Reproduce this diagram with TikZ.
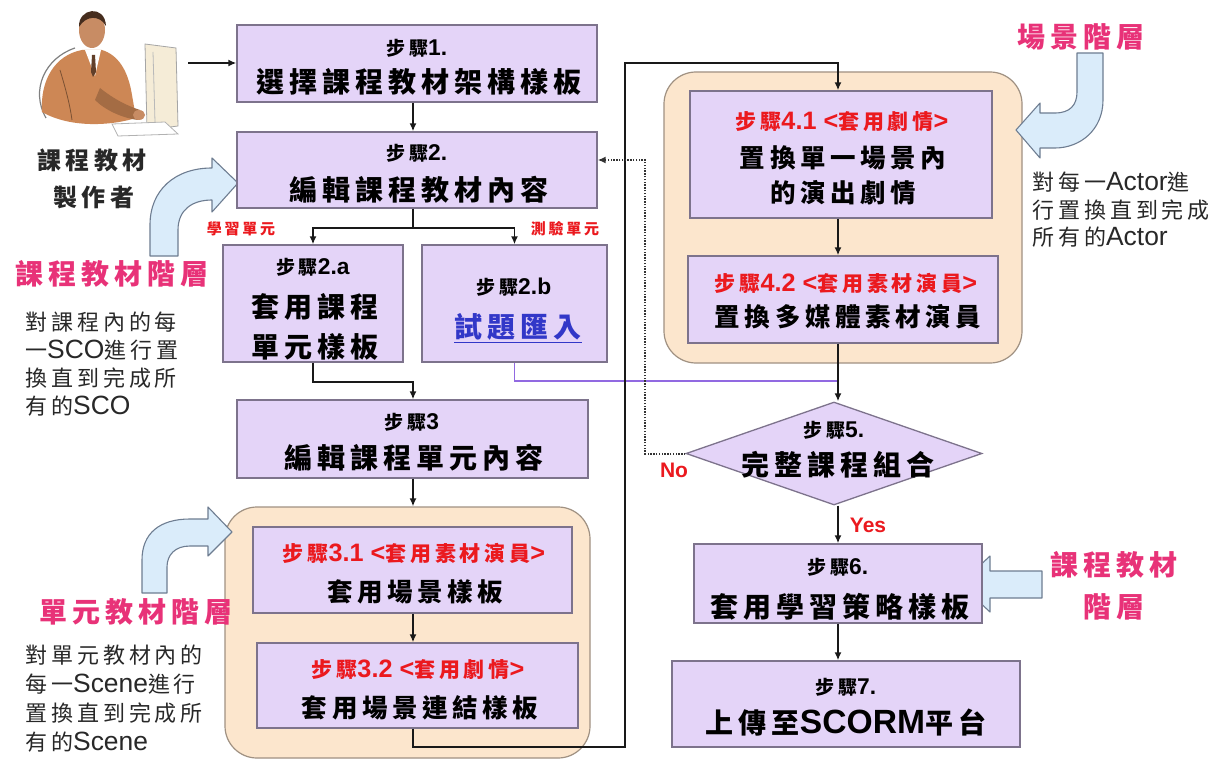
\documentclass[tikz,border=0pt]{standalone}
\usepackage{fontspec}
\setmainfont{Noto Sans CJK TC}
\newfontfamily\cjk{Noto Sans CJK TC}[LetterSpace=18]
\newfontfamily\lat{Liberation Sans}[Scale=1.2]
\usetikzlibrary{shapes.geometric,arrows.meta}

\definecolor{boxfill}{RGB}{228,212,248}
\definecolor{boxline}{RGB}{125,115,140}
\definecolor{peach}{RGB}{252,230,205}
\definecolor{peachline}{RGB}{160,145,130}
\definecolor{skyfill}{RGB}{218,236,250}
\definecolor{skyline}{RGB}{110,125,145}
\definecolor{stepred}{RGB}{235,25,30}
\definecolor{layerpink}{RGB}{232,50,120}
\definecolor{linkblue}{RGB}{50,55,200}
\definecolor{joinpurple}{RGB}{145,105,225}
\definecolor{notegray}{RGB}{40,40,40}
\definecolor{suitbrown}{RGB}{205,135,85}
\definecolor{skin}{RGB}{200,140,100}
\definecolor{hair}{RGB}{70,45,30}
\definecolor{cream}{RGB}{245,236,215}

\tikzset{
  box/.style={draw=boxline, fill=boxfill, line width=1.3pt, inner sep=0pt},
  group/.style={draw=peachline, fill=peach, line width=1.2pt, rounded corners=32pt, inner sep=0pt},
  conn/.style={line width=1.6pt, draw=black!90},
  arr/.style={conn, -{Latex[length=8pt,width=7pt]}},
  dots/.style={line width=2pt, draw=black!80, dash pattern=on 1.4pt off 1.4pt, -{Latex[length=8pt,width=7pt]}},
  joinline/.style={line width=1.6pt, draw=joinpurple},
  stephead/.style={font=\cjk\fontsize{19}{19}\selectfont\bfseries, inner sep=0pt},
  steptext/.style={font=\cjk\fontsize{28}{28}\selectfont\bfseries, inner sep=0pt},
  subtext/.style={font=\cjk\fontsize{25.5}{25.5}\selectfont\bfseries, inner sep=0pt},
  redhead/.style={text=stepred, font=\cjk\fontsize{21}{21}\selectfont\bfseries, inner sep=0pt},
  tag/.style={text=stepred, font=\cjk\fontsize{15}{15}\selectfont\bfseries, inner sep=0pt},
  yesno/.style={text=stepred, font=\lat\fontsize{17.5}{17.5}\selectfont\bfseries, inner sep=0pt},
  layer/.style={text=layerpink, font=\cjk\fontsize{28}{28}\selectfont\bfseries, inner sep=0pt},
  note/.style={text=notegray, font=\cjk\fontsize{22}{22}\selectfont, inner sep=0pt, anchor=west},
  skyarrow/.style={fill=skyfill, draw=skyline, line width=1.1pt, line join=round},
}

\begin{document}
\begin{tikzpicture}[x=1pt, y=-1pt]
\useasboundingbox[fill=white] (0,0) rectangle (1228,762);

% ---------- author figure ----------
\draw[gray, line width=1.2pt] (46,118) .. controls (30,90) and (45,58) .. (75,48);
\fill[suitbrown] (42,112) .. controls (40,80) and (55,55) .. (82,50) -- (102,50)
   .. controls (118,55) and (128,70) .. (132,95) -- (136,118)
   .. controls (110,126) and (70,128) .. (42,112) -- cycle;
\draw[suitbrown!60!black, line width=0.8pt] (60,70) .. controls (66,90) and (70,105) .. (72,120);
\fill[white] (85,50) -- (101,50) -- (95,76) -- cycle;
\fill[hair!80!suitbrown] (92,55) -- (95,55) -- (96,72) -- (93,77) -- (91,72) -- cycle;
\fill[skin] (92,30) ellipse [x radius=13pt, y radius=18pt];
\fill[hair] (79,27) .. controls (78,8) and (105,4) .. (106,26) .. controls (100,15) and (86,15) .. (79,27) -- cycle;
\fill[suitbrown!80!black] (100,88) .. controls (115,100) and (128,106) .. (140,110) -- (138,120)
   .. controls (122,118) and (105,110) .. (95,100) -- cycle;
\fill[skin] (139,115) ellipse [x radius=6pt, y radius=5pt];
\filldraw[fill=cream, draw=gray!70, line width=0.8pt] (145,44) -- (176,48) -- (178,126) -- (147,130) -- cycle;
\draw[gray!55, line width=0.8pt] (153,52) -- (155,122);
\filldraw[fill=white, draw=gray!60, line width=0.8pt] (112,124) -- (165,122) -- (178,134) -- (118,136) -- cycle;
\coordinate (pc) at (188,63);

\node[text=notegray, font=\cjk\fontsize{24}{24}\selectfont\bfseries, inner sep=0pt] (maker1) at (92,160) {課程教材};
\node[text=notegray, font=\cjk\fontsize{24}{24}\selectfont\bfseries, inner sep=0pt] (maker2) at (94,197) {製作者};

% ---------- group panels ----------
\node[group, minimum width=365pt, minimum height=251pt] (cL) at (407.5,632.5) {};
\node[group, minimum width=358pt, minimum height=291pt] (cR) at (843,217.5) {};

% ---------- curved layer arrows ----------
\draw[skyarrow] (150,256) -- (150,225) .. controls (150,190) and (175,168) .. (212,168)
   -- (212,158) -- (238,183) -- (212,212) -- (212,200)
   .. controls (192,200) and (178,210) .. (178,230) -- (178,256) -- cycle;
\draw[skyarrow] (142,593) -- (142,560) .. controls (142,533) and (160,519) .. (190,519)
   -- (208,519) -- (208,507) -- (232,532) -- (208,556) -- (208,546) -- (190,546)
   .. controls (175,546) and (167,555) .. (167,567) -- (167,593) -- cycle;
\draw[skyarrow] (1077,53) -- (1103,53) -- (1103,100) .. controls (1103,130) and (1080,148) .. (1055,148)
   -- (1040,148) -- (1040,158) -- (1016,130) -- (1040,103) -- (1040,113) -- (1055,113)
   .. controls (1070,113) and (1077,105) .. (1077,92) -- cycle;
\draw[skyarrow] (1042,571) -- (990,571) -- (990,556) -- (960,584) -- (990,612) -- (990,598) -- (1042,598) -- cycle;

% ---------- step boxes ----------
\node[box, minimum width=360pt, minimum height=77pt] (s1) at (417,63.5) {};
\node[box, minimum width=360pt, minimum height=76pt] (s2) at (417,170) {};
\node[box, minimum width=180pt, minimum height=117pt] (s2a) at (313,303.5) {};
\node[box, minimum width=185pt, minimum height=117pt] (s2b) at (514.5,303.5) {};
\node[box, minimum width=351pt, minimum height=78pt] (s3) at (412.5,439) {};
\node[box, minimum width=319pt, minimum height=86pt] (s31) at (412.5,570) {};
\node[box, minimum width=321pt, minimum height=85pt] (s32) at (417.5,685.5) {};
\node[box, minimum width=302pt, minimum height=127pt] (s41) at (841,154.5) {};
\node[box, minimum width=310pt, minimum height=87pt] (s42) at (843,299.5) {};
\node[box, diamond, minimum width=296pt, minimum height=103pt] (d5) at (834,453.5) {};
\node[box, minimum width=288pt, minimum height=79pt] (s6) at (838,583.5) {};
\node[box, minimum width=348pt, minimum height=86pt] (s7) at (846,704) {};

% ---------- box texts ----------
\node[stephead] (h1) at (417,48) {步驟{\lat 1.}};
\node[steptext] (m1) at (419,82) {選擇課程教材架構樣板};
\node[stephead] (h2) at (417,153) {步驟{\lat 2.}};
\node[steptext] (m2) at (419,190) {編輯課程教材內容};
\node[stephead] (h2a) at (313,267) {步驟{\lat 2.a}};
\node[steptext] (m2a1) at (315,307) {套用課程};
\node[steptext] (m2a2) at (315,347) {單元樣板};
\node[stephead] (h2b) at (514,287) {步驟{\lat 2.b}};
\node[steptext, text=linkblue] (m2b) at (518,328) {\underline{試題匯入}};
\node[stephead] (h3) at (412,422) {步驟{\lat 3}};
\node[steptext] (m3) at (414,458) {編輯課程單元內容};
\node[redhead] (h31) at (414,553) {步驟{\lat 3.1 <}套用素材演員{\lat >}};
\node[subtext] (m31) at (415,592) {套用場景樣板};
\node[redhead] (h32) at (418,670) {步驟{\lat 3.2 <}套用劇情{\lat >}};
\node[subtext] (m32) at (420,708) {套用場景連結樣板};
\node[redhead] (h41) at (842,122) {步驟{\lat 4.1 <}套用劇情{\lat >}};
\node[subtext] (m41a) at (843,158) {置換單一場景內};
\node[subtext] (m41b) at (843,193) {的演出劇情};
\node[redhead] (h42) at (846,283) {步驟{\lat 4.2 <}套用素材演員{\lat >}};
\node[subtext] (m42) at (848,317) {置換多媒體素材演員};
\node[stephead] (h5) at (834,430) {步驟{\lat 5.}};
\node[steptext] (m5) at (838,465) {完整課程組合};
\node[stephead] (h6) at (838,567) {步驟{\lat 6.}};
\node[steptext] (m6) at (840,607) {套用學習策略樣板};
\node[stephead] (h7) at (846,687) {步驟{\lat 7.}};
\node[steptext] (m7) at (846,723) {上傳至{\lat SCORM}平台};

% ---------- branch tags, decisions ----------
\node[tag] (tagA) at (241,229) {學習單元};
\node[tag] (tagB) at (565,229) {測驗單元};
\node[yesno] (no) at (674,470) {No};
\node[yesno] (yes) at (868,525) {Yes};

% ---------- layer titles and notes ----------
\node[layer] (lay1) at (112,274) {課程教材階層};
\node[note] (n1a) at (25,322) {對課程內的每};
\node[note] (n1b) at (25,350) {一{\lat SCO}進行置};
\node[note] (n1c) at (25,378) {換直到完成所};
\node[note] (n1d) at (25,406) {有的{\lat SCO}};
\node[layer] (lay2) at (136,612) {單元教材階層};
\node[note] (n2a) at (25,655) {對單元教材內的};
\node[note] (n2b) at (25,684) {每一{\lat Scene}進行};
\node[note] (n2c) at (25,713) {置換直到完成所};
\node[note] (n2d) at (25,742) {有的{\lat Scene}};
\node[layer] (lay3) at (1081,37) {場景階層};
\node[note] (n3a) at (1032,182) {對每一{\lat Actor}進};
\node[note] (n3b) at (1032,210) {行置換直到完成};
\node[note] (n3c) at (1032,237) {所有的{\lat Actor}};
\node[layer] (lay4) at (1114,565) {課程教材};
\node[layer] (lay5) at (1114,607) {階層};

% ---------- connectors ----------
\coordinate (lx) at (413,0);
\coordinate (ax) at (838,0);
\coordinate (bj) at (413,228);
\coordinate (aj) at (413,382);
\coordinate (pj) at (838,381);
\coordinate (rb) at (625,747);
\coordinate (rt) at (625,63);
\coordinate (nb) at (645,453.5);
\coordinate (nt) at (645,160);

\draw[arr] (pc) -- (s1.west |- pc);
\draw[arr] (s1.south -| lx) -- (s2.north -| lx);
\draw[conn] (s2.south -| lx) -- (bj);
\draw[arr] (bj) -- (bj -| s2a.north) -- (s2a.north);
\draw[arr] (bj) -- (bj -| s2b.north) -- (s2b.north);
\draw[arr] (s2a.south) -- (s2a.south |- aj) -- (aj) -- (s3.north -| lx);
\draw[joinline] (s2b.south) -- (s2b.south |- pj) -- (pj);
\draw[arr] (s3.south -| lx) -- (cL.north -| lx);
\draw[arr] (s31.south -| lx) -- (s32.north -| lx);
\draw[arr] (s32.south -| lx) -- (lx |- rb) -- (rb) -- (rt) -- (rt -| ax) -- (s41.north -| ax);
\draw[arr] (s41.south -| ax) -- (s42.north -| ax);
\draw[arr] (s42.south -| ax) -- (d5.north -| ax);
\draw[dots] (d5.west) -- (nb) -- (nt) -- (s2.east |- nt);
\draw[arr] (d5.south -| ax) -- (s6.north -| ax);
\draw[arr] (s6.south -| ax) -- (s7.north -| ax);
\end{tikzpicture}
\end{document}
